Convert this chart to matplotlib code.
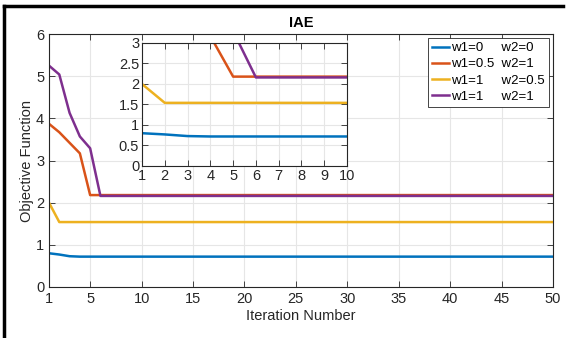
import matplotlib
matplotlib.use("Agg")
import matplotlib.pyplot as plt
from matplotlib.lines import Line2D
import numpy as np

plt.rcParams['font.family'] = ['Liberation Sans', 'DejaVu Sans']

# values (iterations 1..50, converged tail repeated)
iters = np.arange(1, 51)
blue = [0.80, 0.77, 0.73] + [0.72] * 47
orange = [3.87, 3.67, 3.42, 3.17, 2.18] + [2.18] * 45
yellow = [2.00, 1.54] + [1.54] * 48
purple = [5.25, 5.04, 4.13, 3.57, 3.29, 2.16] + [2.16] * 44
labels = ["w1=0     w2=0", "w1=0.5  w2=1", "w1=1     w2=0.5", "w1=1     w2=1"]
colors = ['#0072BD', '#D95319', '#EDB120', '#7E2F8E']
series = [blue, orange, yellow, purple]

fig = plt.figure(figsize=(5.68, 3.38), dpi=100)
ax = fig.add_axes([49/568, 51/338, 504/568, 253/338])


def style(a):
    a.grid(True, color='#e6e6e6', linewidth=0.8)
    a.set_axisbelow(True)
    a.tick_params(direction='in', top=True, right=True, length=4,
                  labelsize=10.5, colors='#262626', width=0.6)
    for s in a.spines.values():
        s.set_linewidth(0.8)
        s.set_color('#262626')


for y, c, lab in zip(series, colors, labels):
    ax.plot(iters, y, color=c, lw=1.8, label=lab)
ax.set_xlim(1, 50)
ax.set_ylim(0, 6)
ax.set_xticks([1, 5, 10, 15, 20, 25, 30, 35, 40, 45, 50])
ax.set_yticks(range(0, 7))
style(ax)
ax.set_title('IAE', fontsize=10.5, fontweight='bold', pad=5)
ax.set_xlabel('Iteration Number', fontsize=10.5, color='#262626', labelpad=2)
ax.set_ylabel('Objective Function', fontsize=10.5, color='#262626', labelpad=1)
leg = ax.legend(loc='upper right', fontsize=9.5, handlelength=1.3,
                handletextpad=0.15, borderpad=0.3, labelspacing=0.3,
                fancybox=False, framealpha=1, borderaxespad=0.3)
leg.get_frame().set_edgecolor('#262626')
leg.get_frame().set_linewidth(0.6)

# inset zoom on first 10 iterations
ins = fig.add_axes([142/568, 172/338, 205/568, 123/338])
for y, c in zip(series, colors):
    ins.plot(iters, y, color=c, lw=1.8)
ins.set_xlim(1, 10)
ins.set_ylim(0, 3)
ins.set_xticks(range(1, 11))
ins.set_yticks(np.arange(0, 3.01, 0.5))
ins.set_yticklabels(['0', '0.5', '1', '1.5', '2', '2.5', '3'])
style(ins)
ins.tick_params(labelsize=10.5, pad=2)
ins.set_facecolor('white')

# partial black frame (top and left)
fig.add_artist(Line2D([4/568, 563/568], [1 - 6/338, 1 - 6/338],
                      transform=fig.transFigure, color='black', lw=2.5))
fig.add_artist(Line2D([4/568, 4/568], [1 - 6/338, 0],
                      transform=fig.transFigure, color='black', lw=2.5))

fig.savefig('out.png', dpi=100)
